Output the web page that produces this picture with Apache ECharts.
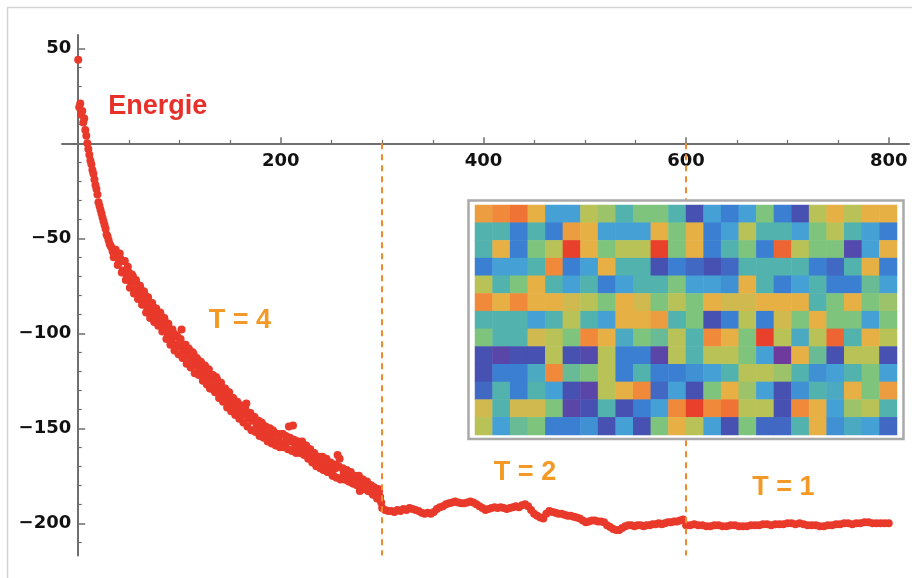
<!DOCTYPE html>
<html><head><meta charset="utf-8">
<script src="https://cdn.jsdelivr.net/npm/echarts@6/dist/echarts.min.js"></script>
<style>html,body{margin:0;padding:0;background:#fff}#c{width:912px;height:578px}</style>
</head><body><div id="c"></div>
<script>
// ---- data ----
// T = 4 phase, even steps (0, 2, ... 298)
const t4EvenStart = 0, t4EvenStep = 2;
const energyT4Even = [
 44,21,17,13,4,-3,-9,-14,-19,-24,
 -31,-35,-39,-43,-48,-51,-54,-57,-59,-58,
 -63,-61,-67,-62,-70,-68,-73,-70,-77,-74,
 -80,-77,-83,-80,-86,-84,-89,-86,-91,-89,
 -94,-91,-97,-94,-100,-98,-103,-100,-106,-102,
 -107,-98,-109,-106,-112,-109,-114,-111,-117,-114,
 -119,-116,-121,-118,-123,-129,-124,-127,-123,-129,
 -127,-132,-129,-134,-131,-137,-134,-139,-136,-141,
 -138,-143,-140,-137,-145,-142,-146,-144,-149,-146,
 -151,-148,-153,-150,-152,-155,-151,-157,-153,-156,
 -158,-153,-159,-156,-149,-157,-148.5,-160,-157,-161,
 -158,-162,-160,-164,-161,-166,-163,-168,-165,-170,
 -167,-172,-169,-173,-170,-172,-175,-171,-164,-166,
 -176,-173,-177,-174,-178,-175,-179,-176,-180,-183,
 -177,-181,-179,-183,-180,-184,-181,-185,-182,-186
];
// T = 4 phase, odd steps (1, 3, ... 299)
const t4OddStart = 1, t4OddStep = 2;
const energyT4Odd = [
 19,15,11,7,0,-6,-11,-16,-22,-27,
 -33,-37,-41,-45,-49,-53,-55,-60,-56,-64,
 -58,-68,-62,-72,-65,-76,-69,-79,-72,-82,
 -75,-85,-78,-89,-81,-92,-84,-94,-87,-96,
 -89,-99,-92,-103,-95,-106,-98,-109,-101,-111,
 -103,-113,-106,-116,-108,-118,-110,-121,-113,-122,
 -115,-125,-117,-127,-119,-129,-122,-131,-124,-134,
 -126,-136,-129,-139,-131,-141,-134,-143,-136,-145,
 -138,-147,-140,-149,-142,-151,-144,-152,-146,-154,
 -147,-155,-149,-157,-150,-158,-152,-159,-153,-160,
 -153,-160,-154,-161,-155,-162,-156,-163,-157,-163,
 -157,-164,-159,-166,-161,-168,-163,-170,-165,-171,
 -165,-172,-166,-173,-168,-175,-169,-176,-170,-177,
 -171,-177,-172,-178,-173,-179,-175,-180,-175,-181,
 -177,-182,-178,-183,-180,-185,-182,-187,-183,-189
];
const t2Start = 300, t2Step = 3;
const energyT2 = [
 -192,-193,-193.5,-193.5,-194,-193,-193.5,-192.5,-193,-192,
 -192.5,-193,-193.5,-194.5,-195,-194.5,-195,-194,-192.5,-191.5,
 -191,-190,-189.5,-189,-188.5,-189,-189.5,-189.5,-189,-188.5,
 -189,-190,-191,-192,-193,-192.5,-192,-191.5,-192,-191.5,
 -192,-192.5,-192,-191.5,-191,-191.5,-190.5,-190,-191,-193,
 -195,-196,-197,-197.5,-195,-193.5,-194,-194.5,-195,-195,
 -195.5,-196,-196,-196.5,-197,-197.5,-198.5,-199.5,-199,-198.5,
 -198.5,-199,-199,-199.5,-201,-202,-203,-203.5,-203.5,-202.5,
 -201.5,-201,-201,-201.5,-201,-201,-201.5,-201,-201,-200.5,
 -200.5,-200,-200.5,-200,-199.5,-199.5,-199,-199,-198.5,-198
];
const t1Start = 600, t1Step = 4;
const energyT1 = [
 -201,-201,-200.5,-201,-201,-201.5,-201.5,-201,-201,-201.5,
 -201.5,-201,-201,-201.5,-201.5,-201.5,-201,-201,-201,-200.5,
 -200.5,-201,-200.5,-200.5,-200.5,-200,-200,-200.5,-200,-200.5,
 -201,-201,-201,-201.5,-201.5,-201,-201,-200.5,-200.5,-200,
 -200,-200.5,-200,-200,-199.5,-199.5,-200,-200,-200,-200,-200
];
const xMajorTicks = [200, 400, 600, 800];
const xMinorTicks = [50,100,150,250,300,350,450,500,550,650,700,750];
const yMajorTicks = [-200, -150, -100, -50, 50];
const yMinorTicks = [-210,-190,-180,-170,-160,-140,-130,-120,-110,-90,-80,-70,-60,-40,-30,-20,-10,10,20,30,40];
const temperatureSwitches = [300, 600];
const annotationTexts = ['Energie', 'T = 4', 'T = 2', 'T = 1'];
const annotationAnchors = [[78.5, 19.6], [159.5, -93.5], [441, -173.5], [696, -181]];
// spin lattice snapshot (24 columns x 13 rows), colour level 0 (purple) .. 9 (red)
const latticeRows = [
 [7.5,8,8.3,7,3,3,6,5.5,4,5,5,4,1,3,2,3,5,2,1,6,7,6,7,7],
 [4,4,2,4,2,7.5,7,3,3,3,7,5,7,2,3,6,4,4,3,5,6,4,3,2],
 [4,7,2,5,6,9,7,5,6,6,9,5,7,2,4,5,2,8.5,6,5,5,0.7,3,7],
 [2,3,3,4,8,2,3,7,4,4,1,2,1.5,1,1.5,4,4,4,4,2,1.5,4,7,2],
 [6,4,5,7,4,3,4,2,3,4,4,5,3,3,2.5,7,4,2,3,4,2,2,4.5,3],
 [8,7,8,7,7,6.5,6,5,7,6.5,5,6,5,7,6.5,6.5,7,7,7,4,5,7,5,5.5],
 [4,4,4,3,4,6,4,3,7,7,7.5,4,5,1,2,6,2,6.5,5,7,5,5,3,5],
 [5,4,4,6.5,6,5,8,7,3.5,5,4.5,6,4,8,7,5,9,6,3.5,6,8.5,4,7,6],
 [1,0.5,1,1,6,1,0.7,6,2,2,0.5,6,4,6,6,5,3,0,7,4.5,1,6,6,1],
 [1,2,2,3.5,8,4.5,5,6,2,4,2,2,2.5,3,4,6,6,5.5,4,2.5,3,4,5,3],
 [1.5,4,2,4,3,1,0.5,6,7,8,1.5,3,1,5,7,5.5,3,1,2.5,4,3.5,7,5,7.5],
 [6.5,4,6.5,6.5,5,0.5,1,4,1,2,3,8,9,8,8.3,6,6,1,8,7,3,5.5,6,4],
 [6,3,4.5,5,2,2,2.5,1,3,1,5,7,6,3,1,5,1.5,1.5,4,7,2.5,3.5,3,1.5]
];
const latticePalette = ['#6e3a9e','#4651b2','#3b7fd2','#45a0d6','#52b2ad','#7ec47c','#b9c257','#e6b045','#f0893a','#e8402b'];

// ---- build ----
const points = [];
energyT4Even.forEach((v, i) => points.push([t4EvenStart + i * t4EvenStep, v]));
energyT4Odd.forEach((v, i) => points.push([t4OddStart + i * t4OddStep, v]));
energyT2.forEach((v, i) => points.push([t2Start + i * t2Step, v]));
energyT1.forEach((v, i) => points.push([t1Start + i * t1Step, v]));

const cells = [];
latticeRows.forEach((row, r) => row.forEach((v, c) => cells.push([c, r, v])));

const X_MIN = -16, X_MAX = 820, Y_MIN = -217, Y_MAX = 57;
const G = {left: 62, top: 35, width: 847, height: 520.6};
// axes cross at the origin: shift the axes from the grid edges to the zero lines
const xAxisShift = -(G.height * (0 - Y_MIN) / (Y_MAX - Y_MIN));
const yAxisShift = -(G.width * (0 - X_MIN) / (X_MAX - X_MIN));
const axisGray = '#6e6e6e';
const labelFont = {fontFamily: 'DejaVu Sans', fontWeight: 'bold', fontSize: 18, color: '#111'};
const minus = v => String(v).replace('-', '\u2212');

const chart = echarts.init(document.getElementById('c'), null, {renderer: 'canvas'});
chart.setOption({
  animation: false,
  backgroundColor: '#fff',
  grid: [
    Object.assign({containLabel: false}, G),
    {left: 475, top: 205, width: 422, height: 230, containLabel: false}
  ],
  xAxis: [
    {type: 'value', gridIndex: 0, min: X_MIN, max: X_MAX, position: 'bottom', offset: xAxisShift,
     axisLine: {show: true, onZero: false, lineStyle: {color: axisGray, width: 2}},
     axisTick: {show: true, inside: true, length: 6, customValues: xMajorTicks, lineStyle: {color: axisGray, width: 1.5}},
     axisLabel: Object.assign({show: true, margin: 9, customValues: xMajorTicks}, labelFont),
     splitLine: {show: false}},
    {type: 'value', gridIndex: 0, min: X_MIN, max: X_MAX, position: 'bottom', offset: xAxisShift,
     axisLine: {show: false, onZero: false},
     axisTick: {show: true, inside: true, length: 3.5, customValues: xMinorTicks, lineStyle: {color: axisGray, width: 1.2}},
     axisLabel: {show: false}, splitLine: {show: false}},
    {type: 'category', gridIndex: 1, data: latticeRows[0].map((_, i) => i), show: false}
  ],
  yAxis: [
    {type: 'value', gridIndex: 0, min: Y_MIN, max: Y_MAX, position: 'left', offset: yAxisShift,
     axisLine: {show: true, onZero: false, lineStyle: {color: axisGray, width: 2}},
     axisTick: {show: true, inside: true, length: 7, customValues: yMajorTicks, lineStyle: {color: axisGray, width: 1.5}},
     axisLabel: Object.assign({show: true, margin: 7, customValues: yMajorTicks, formatter: minus}, labelFont),
     splitLine: {show: false}},
    {type: 'value', gridIndex: 0, min: Y_MIN, max: Y_MAX, position: 'left', offset: yAxisShift,
     axisLine: {show: false, onZero: false},
     axisTick: {show: true, inside: true, length: 3.5, customValues: yMinorTicks, lineStyle: {color: axisGray, width: 1.2}},
     axisLabel: {show: false}, splitLine: {show: false}},
    {type: 'category', gridIndex: 1, data: latticeRows.map((_, i) => i), inverse: true, show: false}
  ],
  visualMap: {type: 'continuous', show: false, seriesIndex: 1, min: 0, max: 9, inRange: {color: latticePalette}},
  graphic: [
    {type: 'polyline', z: 1, silent: true, shape: {points: [[7.5, 578], [7.5, 7.5], [912, 7.5]]}, style: {stroke: '#d4d4d4', lineWidth: 1.5, fill: null}},
    {type: 'rect', z: 50, silent: true, shape: {x: 468.5, y: 200.5, width: 435, height: 238.5}, style: {fill: '#fff', stroke: '#a9a9a9', lineWidth: 2.5}}
  ],
  series: [
    {type: 'scatter', xAxisIndex: 0, yAxisIndex: 0, data: points, symbol: 'circle', symbolSize: 8,
     itemStyle: {color: '#e8392b', opacity: 1}, z: 3, large: false,
     markLine: {silent: true, symbol: ['none', 'none'], label: {show: false},
       lineStyle: {color: '#f08a2c', width: 2, type: [6, 5]},
       data: temperatureSwitches.map(x => [{coord: [x, 0]}, {coord: [x, Y_MIN]}])}},
    {type: 'heatmap', xAxisIndex: 2, yAxisIndex: 2, data: cells, z: 60,
     itemStyle: {borderWidth: 0}, emphasis: {disabled: true}},
    {type: 'scatter', xAxisIndex: 0, yAxisIndex: 0, symbolSize: 1, z: 70, silent: true,
     itemStyle: {opacity: 0},
     data: annotationTexts.map((t, i) => ({name: t, value: annotationAnchors[i],
       label: {color: i === 0 ? '#e8302a' : '#f39a26'}})),
     label: {show: true, position: 'inside', formatter: p => p.name, opacity: 1,
       textBorderWidth: 0, textBorderColor: 'transparent',
       fontFamily: 'Liberation Sans', fontWeight: 'bold', fontSize: 27}}
  ]
});
</script></body></html>
